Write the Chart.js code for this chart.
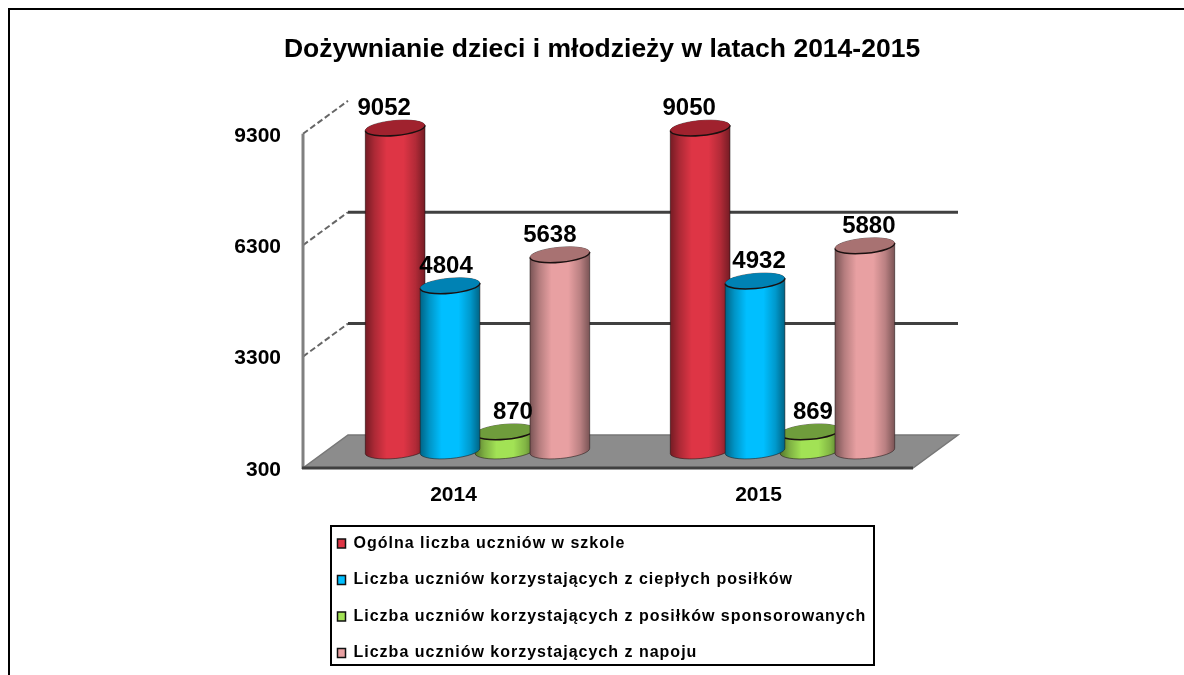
<!DOCTYPE html>
<html lang="pl">
<head>
<meta charset="utf-8">
<title>Dożywnianie dzieci i młodzieży</title>
<script src="https://cdn.jsdelivr.net/npm/chart.js@4"></script>
<style>
  html, body { margin: 0; background: #fff; overflow: hidden; }
  canvas { display: block; }
</style>
</head>
<body>
<canvas id="chart" width="1184" height="675"></canvas>
<script>
const years      = ['2014', '2015'];
const valueTicks = [300, 3300, 6300, 9300];

const seriesNames = [
  'Ogólna liczba uczniów w szkole',
  'Liczba uczniów korzystających z ciepłych posiłków',
  'Liczba uczniów korzystających z posiłków sponsorowanych',
  'Liczba uczniów korzystających z napoju',
];
const allPupils   = [9052, 9050];
const hotMeals    = [4804, 4932];
const sponsored   = [870, 869];
const drinks      = [5638, 5880];

// colours: [body, lid]
const palette = [
  ['#de3545', '#a0222e'],
  ['#00bfff', '#0082b4'],
  ['#a2e255', '#6f9c3c'],
  ['#e8a0a2', '#a87272'],
];

const FONT = '"Liberation Sans", Arial, sans-serif';
const DEPTH_X = 45, DEPTH_Y = -33;   // back wall offset
const BAR_DX = 22, BAR_DY = -15;     // bars stand mid way on the floor
const DRAW_ORDER = [0, 2, 1, 3];     // blue sits over green, pink over green
const LABEL_SHIFT = [[-11, -11], [-4, 4], [8, 3], [-10, 4]];

function cylinder(ctx, x, top, base, w, colors) {
  const rx = w / 2, ry = 7.5, tilt = -0.09;
  const shade = ctx.createLinearGradient(x - rx, 0, x + rx, 0);
  shade.addColorStop(0, 'rgba(0,0,0,0.48)');
  shade.addColorStop(0.16, 'rgba(0,0,0,0.22)');
  shade.addColorStop(0.36, 'rgba(0,0,0,0)');
  shade.addColorStop(0.64, 'rgba(0,0,0,0)');
  shade.addColorStop(0.84, 'rgba(0,0,0,0.2)');
  shade.addColorStop(1, 'rgba(0,0,0,0.48)');

  ctx.beginPath();
  ctx.ellipse(x, base, rx, ry, tilt, 0, Math.PI);
  ctx.ellipse(x, top, rx, ry, tilt, Math.PI, Math.PI * 2);
  ctx.closePath();
  ctx.fillStyle = colors[0];
  ctx.fill();
  ctx.fillStyle = shade;
  ctx.fill();
  ctx.lineWidth = 1;
  ctx.strokeStyle = 'rgba(30,20,20,0.55)';
  ctx.stroke();

  ctx.beginPath();
  ctx.ellipse(x, top, rx, ry, tilt, 0, Math.PI * 2);
  ctx.fillStyle = colors[1];
  ctx.fill();
  ctx.beginPath();
  ctx.ellipse(x, top, rx, ry, tilt, 0, Math.PI);
  ctx.lineWidth = 1.5;
  ctx.strokeStyle = '#1a1010';
  ctx.stroke();
}

const scene3d = {
  id: 'scene3d',
  afterLayout(chart) {
    const title = chart.titleBlock;
    title.left = 0;
    title.right = 1204;

    const lg = chart.legend;
    lg.left = 317;
    lg.right = 900;
    lg.top = 515;
    lg.bottom = 720;
    if (!lg._spaced) {
      const draw = lg.draw;
      lg.draw = function () {
        chart.ctx.save();
        chart.ctx.letterSpacing = '1px';
        draw.call(lg);
        chart.ctx.restore();
      };
      lg._spaced = true;
    }
  },
  beforeDraw(chart) {
    const ctx = chart.ctx;
    ctx.save();
    ctx.strokeStyle = '#000';
    ctx.lineWidth = 2;
    ctx.beginPath();
    ctx.moveTo(9, 680);
    ctx.lineTo(9, 9);
    ctx.lineTo(1190, 9);
    ctx.stroke();
    ctx.strokeRect(331, 526, 543, 139);
    ctx.restore();
  },
  beforeDatasetsDraw(chart) {
    const { ctx, chartArea: a, scales: { y } } = chart;
    ctx.save();

    // floor
    ctx.beginPath();
    ctx.moveTo(a.left, a.bottom);
    ctx.lineTo(a.right, a.bottom);
    ctx.lineTo(a.right + DEPTH_X, a.bottom + DEPTH_Y);
    ctx.lineTo(a.left + DEPTH_X, a.bottom + DEPTH_Y);
    ctx.closePath();
    ctx.fillStyle = '#8c8c8c';
    ctx.fill();
    ctx.strokeStyle = '#777';
    ctx.lineWidth = 1.5;
    ctx.stroke();

    // walls
    ctx.lineCap = 'butt';
    valueTicks.forEach((v, i) => {
      const py = y.getPixelForValue(v);
      if (i > 0) {
        ctx.setLineDash([6, 3]);
        ctx.strokeStyle = '#666';
        ctx.lineWidth = 2;
        ctx.beginPath();
        ctx.moveTo(a.left, py);
        ctx.lineTo(a.left + DEPTH_X, py + DEPTH_Y);
        ctx.stroke();
        ctx.setLineDash([]);
      }
      if (i > 0 && i < valueTicks.length - 1) {
        ctx.strokeStyle = '#404040';
        ctx.lineWidth = 3;
        ctx.beginPath();
        ctx.moveTo(a.left + DEPTH_X, py + DEPTH_Y);
        ctx.lineTo(a.right + DEPTH_X, py + DEPTH_Y);
        ctx.stroke();
      }
    });
    ctx.strokeStyle = '#808080';
    ctx.lineWidth = 3;
    ctx.beginPath();
    ctx.moveTo(a.left, a.top);
    ctx.lineTo(a.left, a.bottom);
    ctx.stroke();
    ctx.strokeStyle = '#404040';
    ctx.beginPath();
    ctx.moveTo(a.left - 1, a.bottom);
    ctx.lineTo(a.right, a.bottom);
    ctx.stroke();

    // bars, read off the library's own elements
    DRAW_ORDER.forEach(d => {
      chart.getDatasetMeta(d).data.forEach(el => {
        cylinder(ctx, el.x + BAR_DX, el.y + BAR_DY, el.base + BAR_DY - 2, el.width + 5, palette[d]);
      });
    });
    ctx.restore();
  },
  // the cylinders above replace the flat bars
  beforeDatasetDraw() {
    return false;
  },
  afterDatasetsDraw(chart) {
    const ctx = chart.ctx;
    ctx.save();
    ctx.font = 'bold 24px ' + FONT;
    ctx.fillStyle = '#000';
    ctx.textAlign = 'center';
    ctx.textBaseline = 'middle';
    chart.data.datasets.forEach((ds, d) => {
      chart.getDatasetMeta(d).data.forEach((el, i) => {
        ctx.fillText(String(ds.data[i]), el.x + BAR_DX + LABEL_SHIFT[d][i], el.y + BAR_DY - 19.5);
      });
    });
    ctx.restore();
  },
};

new Chart(document.getElementById('chart'), {
  type: 'bar',
  data: {
    labels: years,
    datasets: [allPupils, hotMeals, sponsored, drinks].map((data, d) => ({
      label: seriesNames[d],
      data,
      base: valueTicks[0],
      backgroundColor: palette[d][0],
      borderColor: '#111',
      borderWidth: 1.5,
      categoryPercentage: 0.72,
      barPercentage: 1,
    })),
  },
  options: {
    responsive: false,
    animation: false,
    layout: { padding: { left: 203, right: 271, top: 0, bottom: 147 } },
    plugins: {
      tooltip: { enabled: false },
      title: {
        display: true,
        text: 'Dożywnianie dzieci i młodzieży w latach 2014-2015',
        color: '#000',
        font: { family: FONT, size: 26.5, weight: 'bold' },
        padding: { top: 34, bottom: 68 },
      },
      legend: {
        position: 'chartArea',
        align: 'start',
        labels: {
          color: '#000',
          font: { family: FONT, size: 16, weight: 'bold' },
          boxWidth: 8,
          boxHeight: 9,
          padding: 20.5,
          sort: (a, b) => a.datasetIndex - b.datasetIndex,
        },
      },
    },
    scales: {
      x: {
        grid: { display: false },
        border: { display: false },
        afterFit: s => { s.height = 60; },
        ticks: { color: '#000', padding: 7, labelOffset: -2, font: { family: FONT, size: 21, weight: 'bold' } },
      },
      y: {
        min: valueTicks[0],
        max: valueTicks[valueTicks.length - 1],
        grid: { display: false },
        border: { display: false },
        afterFit: s => { s.width = 100; },
        afterBuildTicks: s => { s.ticks = valueTicks.map(value => ({ value })); },
        ticks: {
          color: '#000',
          padding: 14,
          labelOffset: 2,
          font: { family: FONT, size: 21, weight: 'bold' },
          callback: v => String(v),
        },
      },
    },
  },
  plugins: [scene3d],
});
</script>
</body>
</html>
